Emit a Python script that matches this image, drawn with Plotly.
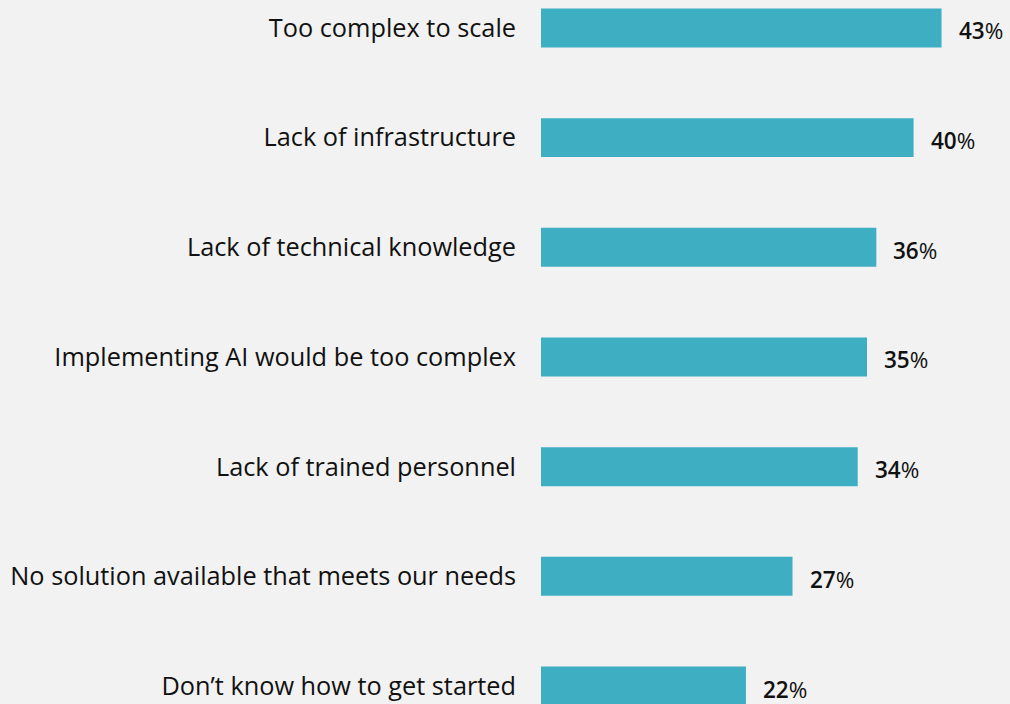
import plotly.graph_objects as go

categories = [
    "Too complex to scale",
    "Lack of infrastructure",
    "Lack of technical knowledge",
    "Implementing AI would be too complex",
    "Lack of trained personnel",
    "No solution available that meets our needs",
    "Don\u2019t know how to get started",
]
values = [43, 40, 36, 35, 34, 27, 22]

BAR = "#3eaec2"
BG = "#f2f2f2"
FONT = "Open Sans"

fig = go.Figure(go.Bar(
    x=values, y=categories, orientation="h",
    marker=dict(color=BAR, line=dict(width=0)),
    width=0.355, hoverinfo="skip",
))

for c, v in zip(categories, values):
    fig.add_annotation(
        x=v, y=c, text=f"<span style='font-weight:600'>{v}</span>%", showarrow=False,
        xanchor="left", xshift=15, yshift=-3,
        font=dict(family=FONT, size=22.5, color="#111111"),
    )

fig.update_layout(
    width=1010, height=704,
    margin=dict(l=541, r=0, t=0, b=0),
    paper_bgcolor=BG, plot_bgcolor=BG,
    showlegend=False,
    font=dict(family=FONT, color="#111111"),
    xaxis=dict(range=[0, 50.35], visible=False, fixedrange=True),
    yaxis=dict(
        categoryorder="array", categoryarray=categories,
        range=[6.164, -0.255],
        showgrid=False, zeroline=False, showline=False, ticks="",
        ticklabelstandoff=24,
        tickfont=dict(family=FONT, size=25.3, color="#111111"),
        fixedrange=True,
    ),
)

fig.write_html(
    "out.html",
    config={"displayModeBar": False},
    post_script="document.body.style.margin='0';document.body.style.overflow='hidden';",
)
